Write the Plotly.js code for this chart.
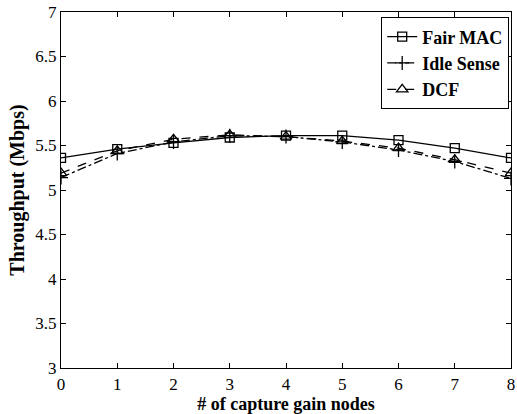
<!DOCTYPE html>
<html>
<head>
<script src="https://cdn.plot.ly/plotly-3.0.1.min.js"></script>
<style>body{margin:0;padding:0;background:#fff;}</style>
</head>
<body>
<div id="chart" style="width:517px;height:414px;"></div>
<script>
const xNodes = [0, 1, 2, 3, 4, 5, 6, 7, 8];
const fairMAC = [5.36, 5.46, 5.53, 5.59, 5.61, 5.61, 5.56, 5.47, 5.36];
const idleSense = [5.14, 5.41, 5.54, 5.61, 5.6, 5.54, 5.45, 5.32, 5.13];
const dcf = [5.19, 5.44, 5.57, 5.62, 5.6, 5.55, 5.47, 5.34, 5.19];
const seriesNames = ['Fair MAC', 'Idle Sense', 'DCF'];

const font = "'Liberation Serif', 'Times New Roman', serif";
const traces = [
  {x: xNodes, y: fairMAC, name: seriesNames[0], mode: 'lines+markers',
   line: {color: '#000', width: 1.3, dash: 'solid'},
   marker: {symbol: 'square-open', size: 9, color: '#000', line: {width: 1.3}}},
  {x: xNodes, y: idleSense, name: seriesNames[1], mode: 'lines+markers',
   line: {color: '#000', width: 1.3, dash: 'dashdot'},
   marker: {symbol: 'cross-thin-open', size: 10, color: '#000', line: {width: 1.3, color: '#000'}}},
  {x: xNodes, y: dcf, name: seriesNames[2], mode: 'lines+markers',
   line: {color: '#000', width: 1.3, dash: 'dash'},
   marker: {symbol: 'triangle-up-open', size: 10, color: '#000', line: {width: 1.3}}}
];
const layout = {
  width: 517, height: 414,
  margin: {l: 61, r: 6, t: 12, b: 46},
  paper_bgcolor: '#fff', plot_bgcolor: '#fff',
  font: {family: font, color: '#000', size: 16},
  showlegend: true,
  legend: {x: 0.996, xanchor: 'right', y: 0.985, yanchor: 'top',
    bordercolor: '#000', borderwidth: 1, bgcolor: '#fff',
    font: {family: font, size: 18, color: '#000', weight: 'bold'},
    tracegroupgap: 0, itemwidth: 30},
  xaxis: {range: [0, 8], dtick: 1, tick0: 0, showgrid: false, zeroline: false,
    showline: true, linecolor: '#000', linewidth: 1.2, mirror: 'ticks',
    ticks: 'inside', ticklen: 5, tickcolor: '#000',
    tickfont: {family: font, size: 17},
    title: {text: '# of capture gain nodes', font: {family: font, size: 18, weight: 'bold'}, standoff: 3}},
  yaxis: {range: [3, 7], dtick: 0.5, tick0: 3, showgrid: false, zeroline: false,
    showline: true, linecolor: '#000', linewidth: 1.2, mirror: 'ticks',
    ticks: 'inside', ticklen: 5, tickcolor: '#000',
    tickfont: {family: font, size: 17},
    title: {text: 'Throughput (Mbps)', font: {family: font, size: 20, weight: 'bold'}, standoff: 5}}
};
Plotly.newPlot('chart', traces, layout, {displayModeBar: false, staticPlot: true});
</script>
</body>
</html>
